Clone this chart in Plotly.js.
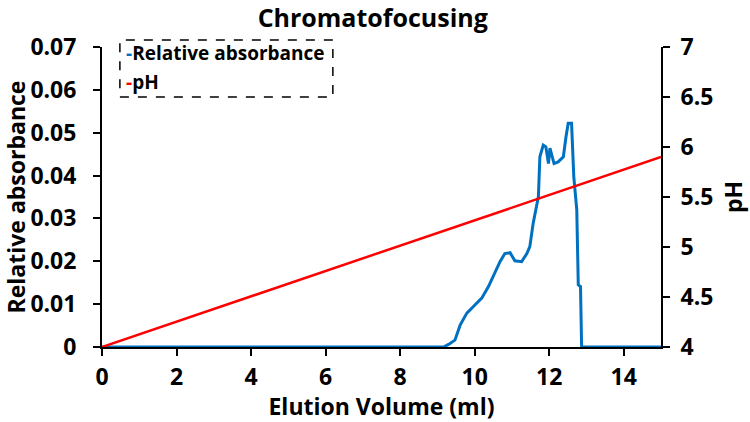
<!DOCTYPE html>
<html>
<head>
<meta charset="utf-8">
<script src="https://cdn.plot.ly/plotly-3.0.1.min.js"></script>
<style>html,body{margin:0;padding:0;background:#fff;}#chart{width:750px;height:422px;}</style>
</head>
<body>
<div id="chart"></div>
<script>
// Elution volume (ml) for the absorbance trace
const volume = [0, 9.0, 9.16, 9.30, 9.47, 9.61, 9.79, 9.96, 10.19, 10.37, 10.54, 10.68, 10.81, 10.95,
  11.08, 11.26, 11.40, 11.48, 11.57, 11.66, 11.71, 11.75, 11.84, 11.91, 11.98, 12.02, 12.07, 12.13,
  12.24, 12.38, 12.45, 12.51, 12.60, 12.66, 12.74, 12.78, 12.84, 12.87, 15];
// Relative absorbance values
const absorbance = [0, 0, 0, 0.0006, 0.0016, 0.0051, 0.0079, 0.0094, 0.0114, 0.0141, 0.0172, 0.0199, 0.0218, 0.0220,
  0.0201, 0.0199, 0.0218, 0.0234, 0.0289, 0.0331, 0.0351, 0.0444, 0.0471, 0.0467, 0.0428, 0.0464, 0.0444, 0.0428,
  0.0432, 0.0444, 0.0490, 0.0522, 0.0522, 0.0397, 0.0320, 0.0145, 0.0141, 0, 0];
// pH gradient
const phVolume = [0, 15];
const phValues = [4, 5.9];
// Tick labels
const xTicks = [0, 2, 4, 6, 8, 10, 12, 14];
const yTicks = [0, 0.01, 0.02, 0.03, 0.04, 0.05, 0.06, 0.07];
const y2Ticks = [4, 4.5, 5, 5.5, 6, 6.5, 7];
const seriesNames = ['Relative absorbance', 'pH'];
const seriesColors = ['#0070C0', '#FF0000'];

const FONT = '"Open Sans", Lato, sans-serif';

const traces = [
  {x: volume, y: absorbance, type: 'scatter', mode: 'lines', name: seriesNames[0],
   line: {color: seriesColors[0], width: 3}, yaxis: 'y', showlegend: false},
  {x: phVolume, y: phValues, type: 'scatter', mode: 'lines', name: seriesNames[1],
   line: {color: seriesColors[1], width: 2.5}, yaxis: 'y2', showlegend: false}
];

const axisCommon = {
  showgrid: false, zeroline: false, showline: true, linecolor: '#000', linewidth: 2,
  ticks: 'outside', ticklen: 7, tickwidth: 2, tickcolor: '#000',
  tickfont: {family: FONT, size: 23, color: '#000', weight: 'bold'}
};

const layout = {
  width: 750, height: 422,
  margin: {l: 102, r: 89, t: 47, b: 75},
  paper_bgcolor: '#fff', plot_bgcolor: '#fff',
  font: {family: FONT, color: '#000', weight: 'bold'},
  title: {text: 'Chromatofocusing', x: 0.497, xanchor: 'center', y: 0.956, yanchor: 'middle',
          font: {family: FONT, size: 25, color: '#000', weight: 'bold'}},
  xaxis: Object.assign({}, axisCommon, {
    range: [0, 15], tickvals: xTicks, ticktext: xTicks.map(String), ticklabelstandoff: 1,
    title: {text: 'Elution Volume (ml)', standoff: 0, font: {family: FONT, size: 23, color: '#000', weight: 'bold'}}
  }),
  yaxis: Object.assign({}, axisCommon, {
    range: [0, 0.07], tickvals: yTicks, ticktext: yTicks.map(v => v === 0 ? '0' : v.toFixed(2)),
    ticklabelstandoff: 12,
    title: {text: 'Relative absorbance', standoff: 6, font: {family: FONT, size: 23, color: '#000', weight: 'bold'}}
  }),
  yaxis2: Object.assign({}, axisCommon, {
    range: [4, 7], overlaying: 'y', side: 'right', tickvals: y2Ticks, ticktext: y2Ticks.map(String),
    ticklabelstandoff: 6,
    title: {text: 'pH', standoff: 13, font: {family: FONT, size: 23, color: '#000', weight: 'bold'}}
  }),
  shapes: [
    {type: 'rect', xref: 'paper', yref: 'paper', x0: 0.032, x1: 0.413, y0: 0.833, y1: 1.023,
     line: {color: '#000', width: 1.5, dash: 'dash'}, fillcolor: 'rgba(0,0,0,0)'}
  ],
  annotations: seriesNames.map((n, i) => ({
    xref: 'paper', yref: 'paper', x: 0.039, y: 0.98 - i * 0.097, xanchor: 'left', yanchor: 'middle',
    showarrow: false, align: 'left',
    text: '<span style="color:' + seriesColors[i] + '">-</span>' + n,
    font: {family: FONT, size: 19, color: '#000', weight: 'bold'}
  }))
};

Plotly.newPlot('chart', traces, layout, {displayModeBar: false, staticPlot: true});
</script>
</body>
</html>
